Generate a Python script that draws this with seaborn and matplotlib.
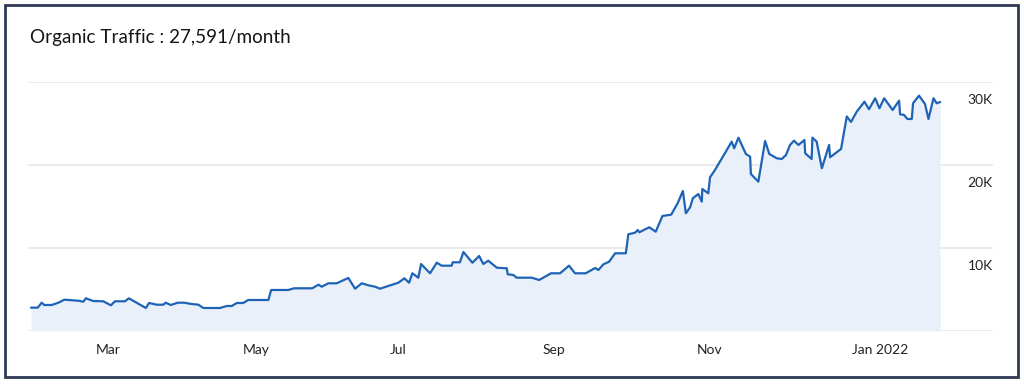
import numpy as np
import pandas as pd
import matplotlib
matplotlib.use("Agg")
import matplotlib.pyplot as plt
import matplotlib.patches as mpatches
import matplotlib.transforms as mtransforms
import seaborn as sns

# ---- data ----
days = [0, 2.7, 4.3, 5.3, 8.3, 11.0, 13.4, 19.0, 21.0, 22.0, 25.0, 29.0, 32.1, 33.7, 37.7, 39.3,
        46.1, 47.4, 50.5, 53.1, 54.1, 56.1, 58.9, 61.5, 64.5, 67.2, 69.2, 75.9, 78.6, 80.6, 82.6,
        85.2, 87.2, 95.3, 96.4, 103.3, 105.6, 112.9, 115.4, 116.7, 119.4, 122.7, 127.4, 130.1,
        132.8, 135.4, 138.1, 140.1, 147.5, 149.9, 151.8, 153.1, 155.5, 156.6, 160.2, 162.9, 164.9,
        168.9, 169.3, 172.2, 173.6, 177.2, 179.9, 181.6, 183.6, 187.0, 191.0, 191.4, 193.6, 195.0,
        201.0, 204.0, 208.8, 212.4, 216.0, 218.4, 222.7, 226.5, 227.8, 229.8, 232.1, 234.5, 238.8,
        239.8, 242.5, 243.6, 244.2, 248.2, 250.8, 253.5, 257.0, 259.6, 261.7, 262.9, 264.6, 265.7,
        267.9, 269.3, 269.5, 271.9, 272.6, 274.6, 281.3, 282.3, 284.0, 287.0, 288.7, 289.0, 292.0,
        294.7, 296.4, 299.4, 301.4, 303.1, 304.7, 306.3, 308.1, 310.5, 310.8, 313.4, 313.7, 315.4,
        317.5, 320.4, 320.8, 325.2, 327.5, 329.2, 331.5, 334.6, 336.4, 338.9, 340.6, 342.5, 345.9,
        348.5, 348.9, 350.5, 351.8, 353.6, 354.1, 356.5, 358.9, 360.3, 362.3, 363.6, 365.0]
traffic = [2810, 2810, 3410, 3133, 3133, 3410, 3772, 3651, 3531, 3940, 3615, 3579, 3097, 3579, 3579, 3940,
           2772, 3374, 3169, 3169, 3410, 3133, 3410, 3410, 3254, 3169, 2772, 2772, 3013, 3013, 3374,
           3374, 3736, 3736, 4941, 4941, 5145, 5145, 5579, 5338, 5748, 5748, 6387, 5097,
           5748, 5507, 5338, 5097, 5820, 6350, 5820, 6953, 6423, 8074, 6953, 8230, 7869,
           7869, 8278, 8278, 9520, 8230, 9038, 8074, 8471, 7628, 7555, 6832, 6748, 6423,
           6423, 6146, 6953, 6953, 7869, 6953, 6953, 7592, 7351, 8037, 8351, 9363, 9363,
           11652, 11845, 12171, 11893, 12496, 11966, 13858, 14014, 15388, 16870, 14183, 14906, 15990,
           16509, 15581, 17111, 16593, 18521, 19401, 22811, 22015, 23293, 21329, 21003, 18919, 17991,
           22895, 21329, 20810, 20726, 21208, 22413, 22931, 22413, 23016, 21413, 20726, 23293, 22811,
           19605, 22413, 20931, 21931, 25847, 25185, 26426, 27631, 26715, 28040, 26835, 28040, 26631,
           27751, 26112, 26028, 25546, 25546, 27438, 28354, 27354, 25546, 28040, 27438, 27591]
tick_days = [31.1, 90.6, 147.5, 210.1, 272.6, 340.9]
tick_labels = ["Mar", "May", "Jul", "Sep", "Nov", "Jan 2022"]
y_ticks = [10000, 20000, 30000]
y_labels = ["10K", "20K", "30K"]
title = "Organic Traffic : 27,591/month"

df = pd.DataFrame({"day": days, "traffic": traffic})

sns.set_theme(style="white")
plt.rcParams["font.family"] = ["Lato", "DejaVu Sans"]

W, H = 1024, 384
fig = plt.figure(figsize=(W / 100, H / 100), dpi=100)
fig.patch.set_facecolor("white")

# outer frame
frame = mpatches.Rectangle((5.3 / W, 7.3 / H), (1018 - 5.3) / W, (378.7 - 7.3) / H,
                           transform=fig.transFigure, fill=False,
                           edgecolor="#2d3a52", linewidth=2.0, zorder=10)
fig.patches.append(frame)

fig.text(30 / W, 1 - 38 / H, title, ha="left", va="center",
         fontsize=13.6, color="#151515")

ax_l, ax_r = 28, 993
ax_t, ax_b = 82, 331
ax = fig.add_axes([ax_l / W, 1 - ax_b / H, (ax_r - ax_l) / W, (ax_b - ax_t) / H])

line_color = "#1f63b6"
ax.fill_between(df["day"], df["traffic"], 0, color="#e9f0f9", linewidth=0, zorder=1)
sns.lineplot(data=df, x="day", y="traffic", ax=ax, color=line_color,
             linewidth=1.6, zorder=3, sort=False)

ax.set_xlim(-1.2, 386.2)
ax.set_ylim(0, 30000)

for v in [0] + y_ticks:
    ax.axhline(v, color="#e4e6ea", linewidth=1.2, zorder=0.5)

for s in ax.spines.values():
    s.set_visible(False)

ax.set_xticks(tick_days)
ax.set_xticklabels(tick_labels, fontsize=10, color="#222222")
ax.tick_params(axis="x", length=0, pad=9)

ax.yaxis.tick_right()
ax.set_yticks(y_ticks)
ax.set_yticklabels(y_labels, fontsize=10, color="#222222")
ax.tick_params(axis="y", length=0, pad=0)
offset = mtransforms.ScaledTranslation(0, -17 / 100, fig.dpi_scale_trans)
for lab in ax.get_yticklabels():
    lab.set_horizontalalignment("right")
    lab.set_transform(lab.get_transform() + offset)

ax.set_xlabel("")
ax.set_ylabel("")
ax.grid(False)
ax.set_facecolor("white")

fig.savefig("out.png", dpi=100)
